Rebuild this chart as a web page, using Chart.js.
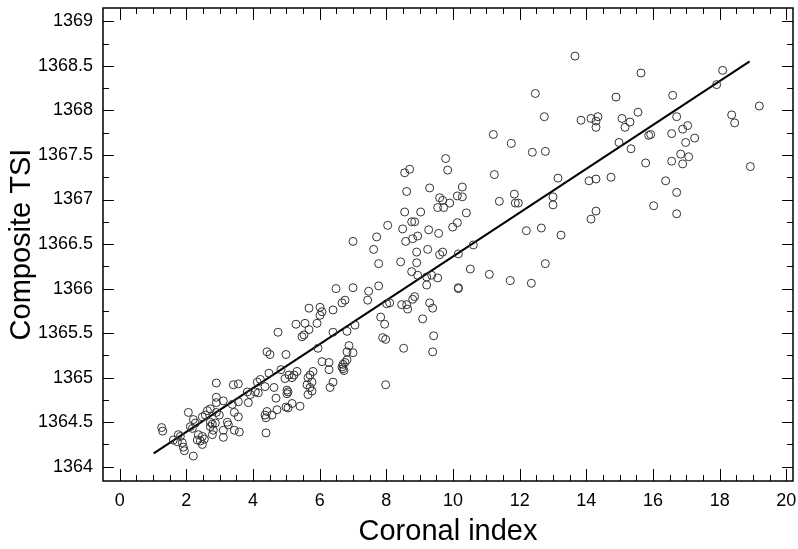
<!DOCTYPE html>
<html>
<head>
<meta charset="utf-8">
<script src="https://cdn.jsdelivr.net/npm/chart.js@4.4.1/dist/chart.umd.min.js"></script>
<style>
  html, body { margin: 0; padding: 0; background: #fff; }
  canvas { display: block; }
</style>
</head>
<body>
<canvas id="tsi-chart" width="798" height="549"></canvas>
<script>
// valores (índice coronal x TSI composto)
const coronalIndex = [
  2.90, 3.41, 3.56, 3.83, 3.92, 3.86, 2.90, 2.90, 3.11, 3.38, 3.56, 2.06, 2.63, 2.72, 2.48, 2.57, 2.90, 2.99, 3.44, 3.56,
  2.21, 2.27, 2.72, 2.78, 2.87, 3.23, 3.26, 1.26, 1.29, 2.12, 2.18, 2.72, 2.81, 3.11, 3.44, 3.59, 1.76, 1.82, 2.36, 2.48,
  2.54, 2.78, 3.11, 1.61, 1.73, 1.88, 1.91, 2.33, 2.42, 2.48, 1.94, 2.21,
  5.29, 5.56, 5.92, 4.75, 5.47, 5.53, 5.68, 4.42, 4.51, 4.99, 5.95, 6.07, 6.28, 6.28, 4.84, 4.48, 5.32, 5.23, 5.08, 5.17,
  4.96, 5.80, 5.71, 5.65, 5.77, 5.62, 5.71, 5.77, 6.40, 6.31, 4.63, 4.36, 4.13, 4.22, 4.07, 4.16, 5.02, 5.05, 5.02, 5.65,
  4.69, 4.99, 5.05, 5.17, 5.41, 4.72, 4.42, 4.36, 4.39, 4.57, 4.39,
  7.62, 7.77, 8.43, 8.91, 8.94, 8.76, 6.49, 7.00, 7.47, 7.44, 7.77, 6.67, 6.76, 6.01, 6.07, 6.01, 6.40, 5.68, 6.40, 6.82,
  7.06, 7.83, 7.95, 8.01, 8.10, 8.46, 8.61, 8.64, 8.79, 8.85, 7.89, 7.98, 8.52, 6.88, 6.82, 7.00, 6.82, 6.70, 6.76, 6.67,
  6.70, 6.73, 7.98,
  9.21, 9.36, 9.54, 9.21, 8.91, 9.24, 9.60, 9.69, 10.16, 10.61, 10.52, 11.09, 11.72, 10.16, 10.16, 9.30, 9.39, 9.09, 9.42, 9.39,
  9.78, 9.84, 8.55, 8.70, 8.61, 9.30, 10.28, 10.13, 10.28, 9.60, 9.69, 9.54, 9.72, 9.90, 8.55, 9.03, 10.40, 8.76, 8.85, 8.04,
  8.49, 10.13, 9.99, 9.27, 9.57, 7.71, 8.58, 8.79, 8.94, 7.00,
  13.66, 12.47, 12.74, 11.21, 11.75, 12.38, 12.77, 11.24, 13.15, 11.84, 11.87, 11.96, 11.39, 13.00, 13.00, 12.20, 12.65, 13.24, 12.77, 12.35,
  15.64, 18.09, 17.91, 16.59, 14.89, 19.19, 15.55, 13.84, 14.14, 14.35, 14.29, 14.29, 15.07, 15.16, 15.31, 16.71, 18.36, 18.45, 14.98, 15.87,
  15.93, 16.56, 16.89, 17.04, 16.98, 17.25, 15.34, 16.83, 17.07, 16.89, 16.56, 15.78, 18.92, 14.74, 14.08, 14.29, 16.38, 16.71, 16.02, 16.71,
  14.29, 14.14
];
const compositeTSI = [
  1364.94, 1364.92, 1364.93, 1364.84, 1364.81, 1364.72, 1364.78, 1364.72, 1364.74, 1364.70, 1364.73, 1364.61, 1364.63, 1364.65, 1364.56, 1364.58, 1364.61, 1364.58, 1364.61, 1364.56,
  1364.53, 1364.49, 1364.50, 1364.48, 1364.49, 1364.50, 1364.47, 1364.44, 1364.40, 1364.45, 1364.43, 1364.45, 1364.41, 1364.41, 1364.41, 1364.39, 1364.36, 1364.34, 1364.36, 1364.34,
  1364.31, 1364.36, 1364.33, 1364.30, 1364.28, 1364.27, 1364.22, 1364.30, 1364.29, 1364.25, 1364.18, 1364.12,
  1365.60, 1365.61, 1365.61, 1365.51, 1365.46, 1365.48, 1365.54, 1365.29, 1365.26, 1365.26, 1365.33, 1365.18, 1365.17, 1365.09, 1365.09, 1365.05, 1365.07, 1365.03, 1365.03, 1365.00,
  1364.99, 1365.07, 1365.03, 1365.00, 1364.95, 1364.92, 1364.89, 1364.85, 1364.95, 1364.89, 1364.89, 1364.90, 1364.95, 1364.98, 1364.84, 1364.83, 1364.86, 1364.84, 1364.82, 1364.81,
  1364.77, 1364.67, 1364.66, 1364.71, 1364.68, 1364.64, 1364.62, 1364.58, 1364.55, 1364.58, 1364.38,
  1366.44, 1366.28, 1366.30, 1366.29, 1366.15, 1366.19, 1366.00, 1366.01, 1365.97, 1365.87, 1366.03, 1365.84, 1365.87, 1365.79, 1365.74, 1365.70, 1365.76, 1365.78, 1365.51, 1365.52,
  1365.59, 1365.68, 1365.60, 1365.83, 1365.84, 1365.82, 1365.82, 1365.77, 1365.88, 1365.91, 1365.45, 1365.43, 1365.33, 1365.36, 1365.29, 1365.28, 1365.20, 1365.15, 1365.17, 1365.12,
  1365.10, 1365.08, 1364.92,
  1366.13, 1366.15, 1366.12, 1366.04, 1366.41, 1366.44, 1366.38, 1366.41, 1366.39, 1366.49, 1366.22, 1366.16, 1366.09, 1366.01, 1366.00, 1365.84, 1365.78, 1365.66, 1365.47, 1365.29,
  1367.46, 1367.33, 1367.30, 1367.34, 1367.09, 1367.13, 1367.14, 1367.04, 1367.03, 1367.02, 1366.99, 1366.91, 1366.91, 1366.96, 1366.86, 1366.86, 1366.85, 1366.75, 1366.75, 1366.71,
  1366.67, 1366.74, 1366.69, 1366.66, 1366.62, 1366.58, 1366.53, 1366.56, 1366.59, 1366.53,
  1368.61, 1368.19, 1367.93, 1367.73, 1367.63, 1367.53, 1367.54, 1367.28, 1367.24, 1367.06, 1366.96, 1366.96, 1366.98, 1367.03, 1366.94, 1366.65, 1366.68, 1366.60, 1366.28, 1366.06,
  1368.42, 1368.45, 1368.29, 1368.17, 1368.15, 1368.05, 1367.98, 1367.89, 1367.91, 1367.93, 1367.88, 1367.81, 1367.91, 1367.81, 1367.87, 1367.93, 1367.95, 1367.86, 1367.64, 1367.72,
  1367.73, 1367.74, 1367.79, 1367.83, 1367.64, 1367.69, 1367.57, 1367.51, 1367.48, 1367.40, 1367.43, 1367.41, 1367.37, 1367.25, 1367.21, 1367.23, 1367.21, 1367.08, 1366.93, 1366.84,
  1366.87, 1366.78
];

// reta de ajuste (extremos lidos)
const fitX = [1.02, 18.9];
const fitY = [1364.15, 1368.55];

const xTickValues = [0, 2, 4, 6, 8, 10, 12, 14, 16, 18, 20];
const yTickValues = [1364, 1364.5, 1365, 1365.5, 1366, 1366.5, 1367, 1367.5, 1368, 1368.5, 1369];

const FONT = "'Liberation Sans', Arial, Helvetica, sans-serif";

// moldura com marcas para dentro nos quatro lados
const frameTicks = {
    id: 'frameTicks',
    afterDraw(chart) {
        const { ctx, chartArea: a, scales: { x, y } } = chart;
        ctx.save();
        ctx.strokeStyle = '#000';
        ctx.lineWidth = 1;
        ctx.beginPath();
        for (let v = 0; v <= 20; v += 0.5) {
            const px = Math.round(x.getPixelForValue(v)) + 0.5;
            const len = v % 2 === 0 ? 12 : 6;
            ctx.moveTo(px, a.bottom); ctx.lineTo(px, a.bottom - len);
            ctx.moveTo(px, a.top); ctx.lineTo(px, a.top + len);
        }
        for (let v = 1364; v <= 1369; v += 0.25) {
            const py = Math.round(y.getPixelForValue(v)) + 0.5;
            const len = v % 0.5 === 0 ? 11 : 6;
            ctx.moveTo(a.left, py); ctx.lineTo(a.left + len, py);
            ctx.moveTo(a.right, py); ctx.lineTo(a.right - len, py);
        }
        ctx.stroke();
        ctx.lineWidth = 1.5;
        ctx.strokeRect(a.left, a.top, a.right - a.left, a.bottom - a.top);
        ctx.restore();
    }
};

const ctx = document.getElementById('tsi-chart').getContext('2d');
new Chart(ctx, {
    type: 'scatter',
    data: {
        datasets: [
            {
                label: 'TSI',
                data: coronalIndex.map((v, i) => ({ x: v, y: compositeTSI[i] })),
                pointStyle: 'circle',
                pointRadius: 4,
                pointBorderWidth: 1,
                pointBorderColor: '#333',
                pointBackgroundColor: 'rgba(0,0,0,0)',
                showLine: false
            },
            {
                label: 'Ajuste',
                data: fitX.map((v, i) => ({ x: v, y: fitY[i] })),
                showLine: true,
                borderColor: '#000',
                borderWidth: 2,
                pointRadius: 0
            }
        ]
    },
    options: {
        responsive: false,
        animation: false,
        layout: { padding: { top: 8, right: -2, left: 0, bottom: 0 } },
        plugins: { legend: { display: false }, tooltip: { enabled: false } },
        scales: {
            x: {
                type: 'linear',
                min: -0.5,
                max: 20.2,
                afterBuildTicks: axis => { axis.ticks = xTickValues.map(v => ({ value: v })); },
                afterFit: axis => { axis.height = 68; axis.paddingLeft = 0; axis.paddingRight = 0; },
                grid: { display: false, drawTicks: false },
                border: { display: false },
                ticks: { color: '#000', padding: 9, maxRotation: 0, autoSkip: false, font: { family: FONT, size: 18 }, callback: v => String(v) },
                title: { display: true, text: 'Coronal index', color: '#000', font: { family: FONT, size: 29 }, padding: { top: 0, bottom: 0 } }
            },
            y: {
                type: 'linear',
                min: 1363.84,
                max: 1369.15,
                afterBuildTicks: axis => { axis.ticks = yTickValues.map(v => ({ value: v })); },
                afterFit: axis => { axis.width = 103; axis.paddingTop = 0; axis.paddingBottom = 0; },
                grid: { display: false, drawTicks: false },
                border: { display: false },
                ticks: { color: '#000', padding: 10, autoSkip: false, font: { family: FONT, size: 18 }, callback: v => String(v) },
                title: { display: true, text: 'Composite TSI', color: '#000', font: { family: FONT, size: 29 }, padding: { top: 5, bottom: 0 } }
            }
        }
    },
    plugins: [frameTicks]
});
</script>
</body>
</html>
